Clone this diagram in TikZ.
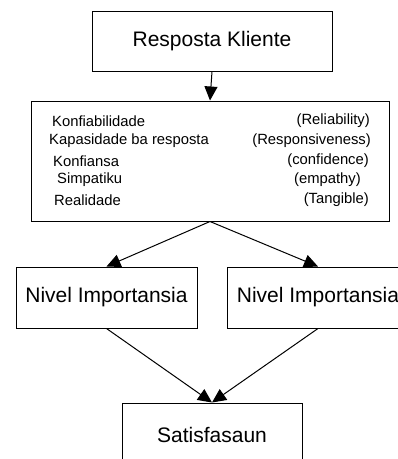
\documentclass[tikz,border=0pt]{standalone}
\usepackage{fontspec}
\setmainfont{Liberation Sans}
\usetikzlibrary{arrows.meta,positioning}

\begin{document}
\begin{tikzpicture}[x=1pt, y=-1pt,
    box/.style={draw, line width=1pt, inner sep=0pt, font=\fontsize{21}{25}\selectfont},
    item/.style={inner sep=0pt, font=\fontsize{14.8}{17}\selectfont},
    conn/.style={line width=1pt, -{Triangle[length=14pt, width=13pt]}}]
    \clip (0,0) rectangle (398,459);
    \useasboundingbox (0,0) rectangle (398,459);

    % boxes
    \node[box, minimum width=240pt, minimum height=60pt] (resp) at (212,41) {Resposta Kliente};
    \node[draw, line width=1pt, minimum width=358pt, minimum height=120pt] (dim) at (210,161) {};
    \node[box, minimum width=181pt, minimum height=61pt] (nivA) at (106.5,297.5) {Nivel Importansia};
    \node[box, minimum width=182pt, minimum height=61pt] (nivB) at (318,297.5) {Nivel Importansia};
    \node[box, minimum width=180pt, minimum height=64pt] (sat) at (212,435) {Satisfasaun};

    % dimensions
    \node[item, anchor=west] (k1) at (52,121) {Konfiabilidade};
    \node[item, anchor=west] (k2) at (49,141) {Kapasidade ba resposta};
    \node[item, anchor=west] (k3) at (53,161) {Konfiansa};
    \node[item, anchor=west] (k4) at (57,180) {Simpatiku};
    \node[item, anchor=west] (k5) at (54,200) {Realidade};
    \node[item, anchor=east] (e1) at (370,121) {(Reliability)};
    \node[item, anchor=east] (e2) at (371,141) {(Responsiveness)};
    \node[item, anchor=east] (e3) at (369,161) {(confidence)};
    \node[item, anchor=east] (e4) at (361,180) {(empathy)};
    \node[item, anchor=east] (e5) at (369,200) {(Tangible)};

    % arrows
    \draw[conn] (resp.south) -- (dim.north);
    \draw[conn] (dim.south) -- (nivA.north);
    \draw[conn] (dim.south) -- (nivB.north);
    \draw[conn] (nivA.south) -- (sat.north);
    \draw[conn] (nivB.south) -- (sat.north);
\end{tikzpicture}
\end{document}
